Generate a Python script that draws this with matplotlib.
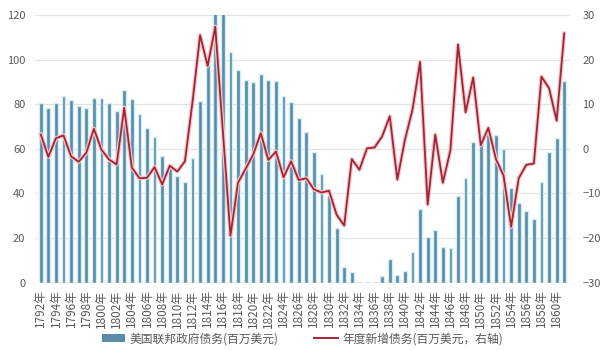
import matplotlib.pyplot as plt
import matplotlib.patheffects as pe
from matplotlib.patches import Patch
from matplotlib.lines import Line2D

plt.rcParams['font.family'] = ['Noto Sans CJK SC', 'DejaVu Sans']

years = list(range(1792, 1862))

# 美国联邦政府债务（百万美元），左轴
debt = [80.4, 78.4, 80.7, 83.8, 82.1, 79.2, 78.4, 82.9, 83.0, 80.7,
        77.1, 86.4, 82.3, 75.7, 69.2, 65.2, 57.0, 53.2, 48.0, 45.2,
        56.0, 81.5, 98.0, 127.3, 123.5, 103.5, 95.5, 91.0, 90.0, 93.5,
        90.9, 90.3, 83.8, 81.1, 74.0, 67.5, 58.4, 48.6, 39.1, 24.3,
        7.0, 4.8, 0.05, 0.3, 0.4, 3.0, 10.5, 3.4, 5.4, 13.5,
        32.9, 20.3, 23.6, 15.8, 15.5, 38.9, 47.1, 62.9, 63.5, 68.3,
        66.2, 59.8, 42.2, 35.6, 32.0, 28.7, 44.9, 58.5, 64.8, 90.6]

# 年度新增债务（百万美元），右轴
new_debt = [3.2, -1.8, 2.4, 3.0, -1.7, -2.9, -0.9, 4.5, -0.2, -2.4,
            -3.5, 9.2, -4.2, -6.6, -6.5, -4.1, -8.0, -3.8, -5.1, -2.8,
            10.5, 25.5, 18.6, 27.4, 4.0, -19.5, -7.6, -4.5, -1.3, 3.5,
            -2.5, -0.6, -6.4, -2.8, -7.0, -6.6, -9.1, -9.8, -9.4, -14.8,
            -17.2, -2.3, -4.7, 0.1, 0.3, 2.8, 7.3, -6.9, 2.0, 8.8,
            19.5, -12.5, 3.2, -7.6, -0.3, 23.4, 8.2, 16.0, 0.8, 4.7,
            -2.3, -6.0, -17.5, -6.6, -3.6, -3.3, 16.2, 13.6, 6.3, 25.9]

bar_label = "美国联邦政府债务(百万美元)"
line_label = "年度新增债务(百万美元，右轴)"

bar_color = "#5b8ba6"
line_color = "#9e2636"
text_color = "#595959"

fig = plt.figure(figsize=(6.05, 3.51), dpi=100)
ax1 = fig.add_axes([0.058, 0.195, 0.884, 0.762])

x = list(range(len(years)))
ax1.bar(x, debt, width=0.5, color=bar_color, edgecolor="#d3edf4",
        linewidth=1.0, zorder=2)
ax1.set_ylim(0, 120)
ax1.set_yticks(range(0, 121, 20))
ax1.set_xlim(-0.75, len(years) - 0.25)
ax1.set_xticks(x[::2])
ax1.set_xticklabels([f"{y}年" for y in years[::2]], rotation=90)
ax1.grid(axis="y", color="#e3e3e3", linewidth=0.9, zorder=0)
ax1.set_axisbelow(True)
ax1.tick_params(length=0, labelsize=8, colors=text_color)
ax1.tick_params(axis="x", labelsize=8.5, pad=5)
ax1.tick_params(axis="y", pad=7)
for s in ax1.spines.values():
    s.set_visible(False)

ax2 = ax1.twinx()
ax2.plot(x, new_debt, color=line_color, linewidth=1.3, zorder=3,
         path_effects=[pe.Stroke(linewidth=3.0, foreground="#f6c8cc"), pe.Normal()])
ax2.set_ylim(-30, 30)
ax2.set_yticks(range(-30, 31, 10))
ax2.tick_params(length=0, labelsize=8, colors=text_color, pad=9)
for s in ax2.spines.values():
    s.set_visible(False)

handles = [Patch(facecolor=bar_color, edgecolor="none"),
           Line2D([0], [0], color=line_color, linewidth=1.4)]
fig.legend(handles, [bar_label, line_label], loc="center",
           bbox_to_anchor=(0.5, 0.035), ncol=2, frameon=False,
           fontsize=8.5, labelcolor=text_color, columnspacing=3.0,
           handlelength=2.0, handletextpad=0.4)

fig.savefig("out.png", dpi=100)
